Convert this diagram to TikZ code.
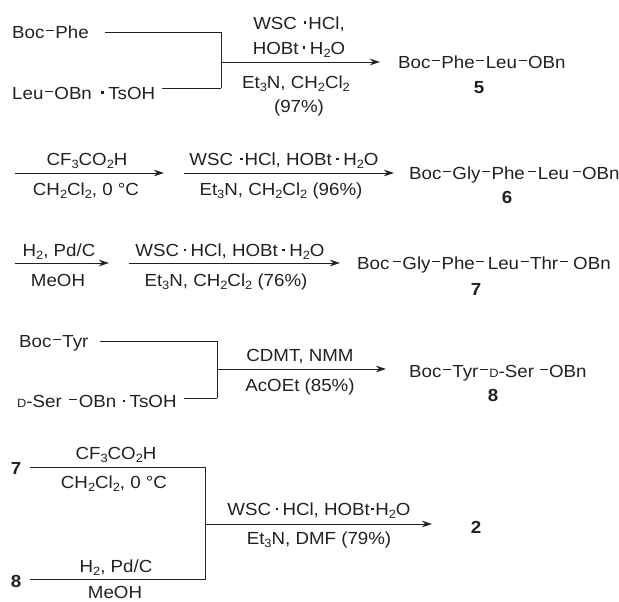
\documentclass[tikz,border=0pt]{standalone}
\usepackage{fontspec}
\setmainfont[FakeStretch=1.07]{Liberation Sans}
\usepackage{tikz}
\usetikzlibrary{arrows.meta,positioning}
\definecolor{inkc}{gray}{0.13}
\newcommand{\bnd}{\kern1.5pt\rule[7pt]{8pt}{0.9pt}\kern1.5pt}
\newcommand{\bndw}{\kern3.5pt\rule[7pt]{8pt}{0.9pt}\kern1.5pt}
\newcommand{\sbs}[1]{\raisebox{-3.5pt}{\fontsize{12}{12}\selectfont #1}}
\newcommand{\cdt}{\kern4.5pt\rule[5.4pt]{2.4pt}{2.4pt}\kern4.5pt}
\newcommand{\cdtl}{\kern7pt\rule[5.4pt]{2.4pt}{2.4pt}\kern2pt}
\newcommand{\dlet}{{\fontsize{12}{12}\selectfont D}}
\tikzset{
  chem/.style={inner sep=0pt,text height=12.6pt,text depth=0pt,text=inkc,font=\fontsize{17.5}{20}\selectfont},
  compound/.style={chem,anchor=west},
  reagent/.style={chem},
  numlabel/.style={chem,font=\fontsize{17.5}{20}\selectfont\bfseries},
  joinline/.style={draw=inkc,line width=0.9pt},
  reactarrow/.style={draw=inkc,line width=0.9pt,-{Stealth[length=10pt,width=6.5pt]}}
}
\begin{document}
\begin{tikzpicture}[x=1pt,y=-1pt]
\useasboundingbox (0,0) rectangle (619,602);
% ----- first coupling: Boc-Phe + Leu-OBn -----
\node[compound] (bocphe) at (12,32) {Boc\bnd Phe};
\node[compound] (leuobn) at (12,93) {Leu\bnd OBn\kern5pt\cdt TsOH};
\node[compound] (prodfive) at (398,62) {Boc\bnd Phe\bnd Leu\bnd OBn};
\node[numlabel] (numfive) at (479,87) {5};
\coordinate (joinA) at (221,62);
\coordinate (topA) at (221,32);
\coordinate (botA) at (221,88);
\draw[joinline,shorten <=16pt] (bocphe.east) -- (topA) -- (botA);
\draw[joinline,shorten <=7pt] (leuobn.east |- botA) -- (botA);
\draw[reactarrow,shorten >=18pt] (joinA) -- (prodfive.west);
\node[reagent] (wscA) at (299,23) {WSC\cdtl HCl,};
\node[reagent] (hobtA) at (299,48) {HOBt\cdt H\sbs{2}O};
\node[reagent] (etA) at (296,82) {Et\sbs{3}N, CH\sbs{2}Cl\sbs{2}};
\node[reagent] (yieldA) at (299,106) {(97\%)};
% ----- second line: deprotect, add Gly -----
\node[compound] (prodsix) at (409,173) {Boc\bnd Gly\bnd Phe\bndw Leu\bndw OBn};
\node[numlabel] (numsix) at (507,197) {6};
\coordinate (startB) at (15,173);
\coordinate (endB) at (164,173);
\coordinate (startBB) at (184,173);
\draw[reactarrow] (startB) -- (endB);
\draw[reactarrow,shorten >=15pt] (startBB) -- (prodsix.west);
\node[reagent] (tfaB) at (87,159) {CF\sbs{3}CO\sbs{2}H};
\node[reagent] (dcmB) at (86,189) {CH\sbs{2}Cl\sbs{2}, 0 °C};
\node[reagent] (wscB) at (284,159) {WSC\cdtl HCl, HOBt\cdt H\sbs{2}O};
\node[reagent] (etB) at (281,189) {Et\sbs{3}N, CH\sbs{2}Cl\sbs{2} (96\%)};
% ----- third line: hydrogenolysis, add Thr -----
\node[compound] (prodseven) at (357,263) {Boc\bndw Gly\bnd Phe\bnd\kern2pt Leu\bnd Thr\bnd\kern4pt OBn};
\node[numlabel] (numseven) at (476,289) {7};
\coordinate (startC) at (15,263);
\coordinate (endC) at (109,263);
\coordinate (startCC) at (129,263);
\draw[reactarrow] (startC) -- (endC);
\draw[reactarrow,shorten >=17pt] (startCC) -- (prodseven.west);
\node[reagent] (hydC) at (59,250) {H\sbs{2}, Pd/C};
\node[reagent] (meohC) at (58,280) {MeOH};
\node[reagent] (wscC) at (230,250) {WSC\cdt HCl, HOBt\cdt H\sbs{2}O};
\node[reagent] (etC) at (226,280) {Et\sbs{3}N, CH\sbs{2}Cl\sbs{2} (76\%)};
% ----- second coupling: Boc-Tyr + D-Ser-OBn -----
\node[compound] (boctyr) at (19,341) {Boc\bnd Tyr};
\node[compound] (serobn) at (17,401) {\dlet-Ser\kern4pt\bndw OBn\kern2pt\cdt TsOH};
\node[compound] (prodeight) at (409,371) {Boc\bnd Tyr\bnd\dlet-Ser\kern2pt\bndw OBn};
\node[numlabel] (numeight) at (493,395) {8};
\coordinate (joinD) at (217,369);
\coordinate (topD) at (217,341);
\coordinate (botD) at (217,398);
\draw[joinline,shorten <=11pt] (boctyr.east) -- (topD) -- (botD);
\draw[joinline,shorten <=7pt] (serobn.east |- botD) -- (botD);
\draw[reactarrow,shorten >=23pt] (joinD) -- (joinD -| prodeight.west);
\node[reagent] (cdmtD) at (300,355) {CDMT, NMM};
\node[reagent] (acoetD) at (300,385) {AcOEt (85\%)};
% ----- final coupling: 7 + 8 to 2 -----
\node[numlabel] (srcseven) at (16,468) {7};
\node[numlabel] (srceight) at (16,581) {8};
\node[numlabel] (prodtwo) at (476,527) {2};
\coordinate (startE) at (30,467);
\coordinate (startEE) at (30,579);
\coordinate (topE) at (205,467);
\coordinate (botE) at (205,579);
\coordinate (joinE) at (205,524);
\coordinate (endE) at (432,524);
\draw[joinline] (startE) -- (topE) -- (botE) -- (startEE);
\draw[reactarrow] (joinE) -- (endE);
\node[reagent] (tfaE) at (116,453) {CF\sbs{3}CO\sbs{2}H};
\node[reagent] (dcmE) at (114,482) {CH\sbs{2}Cl\sbs{2}, 0 °C};
\node[reagent] (hydE) at (116,566) {H\sbs{2}, Pd/C};
\node[reagent] (meohE) at (115,592) {MeOH};
\node[reagent] (wscE) at (319,509) {WSC\cdt HCl, HOBt\kern-3pt\cdt\kern-3pt H\sbs{2}O};
\node[reagent] (etE) at (319,538) {Et\sbs{3}N, DMF (79\%)};
\end{tikzpicture}
\end{document}
